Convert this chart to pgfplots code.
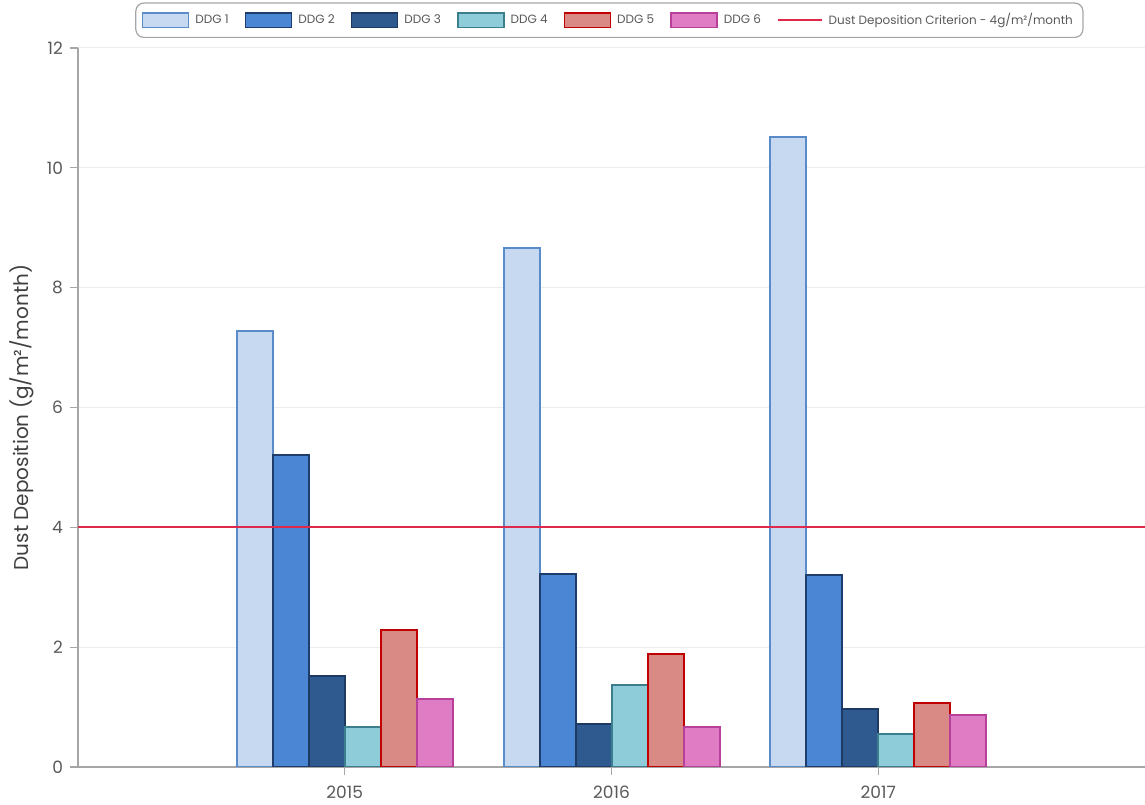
\documentclass[border=0pt]{standalone}
\usepackage{fontspec}
\setmainfont{Poppins}
\usepackage{pgfplots}
\pgfplotsset{compat=1.18}
\definecolor{f1}{HTML}{C6D9F1}\definecolor{b1}{HTML}{5A8BC9}
\definecolor{f2}{HTML}{4A86D3}\definecolor{b2}{HTML}{1F3D6B}
\definecolor{f3}{HTML}{2F5A8F}\definecolor{b3}{HTML}{1E3A63}
\definecolor{f4}{HTML}{8ECCDA}\definecolor{b4}{HTML}{3B7F8F}
\definecolor{f5}{HTML}{D98A84}\definecolor{b5}{HTML}{C00000}
\definecolor{f6}{HTML}{E07CC4}\definecolor{b6}{HTML}{B8409A}
\definecolor{crit}{HTML}{E0284A}
\definecolor{txt}{HTML}{595959}
\definecolor{lab}{HTML}{404040}
\begin{document}
\begin{tikzpicture}
\begin{axis}[
  name=ax,
  scale only axis,
  width=533.5pt, height=359.5pt,
  xmin=0, xmax=4, ymin=0, ymax=12,
  xtick={1,2,3}, xticklabels={2015,2016,2017},
  ytick={0,2,4,6,8,10,12},
  axis x line*=bottom, axis y line*=left,
  axis line style={draw=gray!70, line width=0.8pt, -},
  tick align=outside, major tick length=4pt,
  tick style={draw=gray!70, line width=0.6pt},
  ymajorgrids, grid style={draw=gray!15, line width=0.5pt},
  tick label style={font=\fontsize{8.5}{10}\selectfont, text=txt},
  xticklabel style={yshift=-2pt},
  /pgf/number format/assume math mode=true,
  ylabel={Dust Deposition (g/m²/month)},
  ylabel style={font=\fontsize{10}{12}\selectfont, text=lab, at={(rel axis cs:0,0.5)}, anchor=center, yshift=28pt, xshift=-5pt},
  ybar, bar width=18pt,
  legend columns=7,
  legend style={at={(rel axis cs:0.498,1)}, anchor=south, yshift=5pt,
    font=\fontsize{6}{7}\selectfont, text=txt, draw=gray!70, rounded corners=4pt,
    line width=0.6pt, inner xsep=3pt, inner ysep=3pt,
    /tikz/every odd column/.append style={column sep=1pt},
    /tikz/every even column/.append style={column sep=6pt}},
  area legend,
  legend image code/.code={\draw[#1, line width=0.8pt, rounded corners=0pt] (0pt,-3.7pt) rectangle (23pt,3.7pt);},
]
\addplot[fill=f1, draw=b1, line width=1pt, bar shift=-45pt] coordinates {(1,7.28) (2,8.66) (3,10.52)};
\addlegendentry{DDG 1}
\addplot[fill=f2, draw=b2, line width=1pt, bar shift=-27pt] coordinates {(1,5.21) (2,3.22) (3,3.20)};
\addlegendentry{DDG 2}
\addplot[fill=f3, draw=b3, line width=1pt, bar shift=-9pt] coordinates {(1,1.52) (2,0.72) (3,0.97)};
\addlegendentry{DDG 3}
\addplot[fill=f4, draw=b4, line width=1pt, bar shift=9pt] coordinates {(1,0.67) (2,1.37) (3,0.55)};
\addlegendentry{DDG 4}
\addplot[fill=f5, draw=b5, line width=1pt, bar shift=27pt] coordinates {(1,2.29) (2,1.89) (3,1.07)};
\addlegendentry{DDG 5}
\addplot[fill=f6, draw=b6, line width=1pt, bar shift=45pt] coordinates {(1,1.14) (2,0.67) (3,0.87)};
\addlegendentry{DDG 6}
\addplot[sharp plot, draw=crit, line width=0.9pt, mark=none,
  legend image code/.code={\draw[crit, line width=0.8pt] (0pt,0pt) -- (22pt,0pt);}]
  coordinates {(0,4) (4,4)};
\addlegendentry{Dust Deposition Criterion - 4g/m²/month}
\end{axis}
\pgfresetboundingbox
\path ([xshift=-39pt,yshift=-19pt]ax.south west) rectangle ([yshift=24pt]ax.north east);
\end{tikzpicture}
\end{document}
